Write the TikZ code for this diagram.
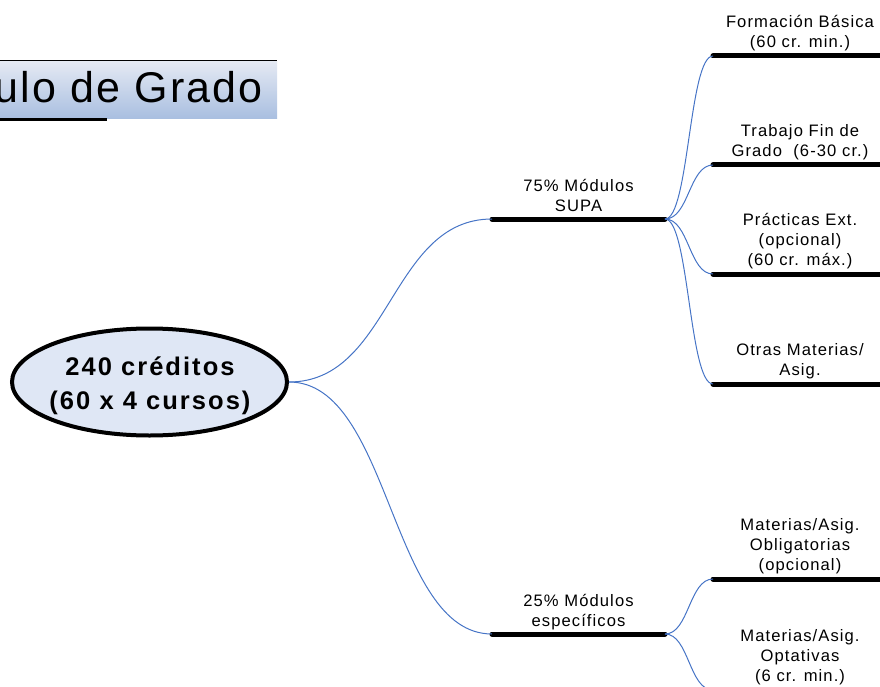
\documentclass[tikz,border=0pt]{standalone}
\usepackage{fontspec}
\setmainfont{Liberation Sans}
\usetikzlibrary{shapes.geometric}
\definecolor{conncol}{RGB}{70,116,198}
\definecolor{ellfill}{RGB}{223,231,245}
\definecolor{titletop}{RGB}{228,233,243}
\definecolor{titlebot}{RGB}{168,190,224}
\tikzset{
  bar/.style={line width=5pt, line cap=round, black},
  conn/.style={conncol, line width=1pt},
  lab/.style={anchor=south, align=center, inner sep=0pt, text depth=0pt,
              font=\fontsize{16.6}{20}\selectfont\addfontfeature{LetterSpace=6.5}},
}
\begin{document}
\begin{tikzpicture}[x=1pt,y=-1pt]
\useasboundingbox (0,0) rectangle (880,687);
\clip (0,0) rectangle (880,687);
% title
\shade[top color=titletop, bottom color=titlebot] (-5,62) rectangle (277,119);
\draw[line width=1.5pt] (-5,60.5) -- (277,60.5);
\draw[line width=3pt] (-5,120) -- (107,120);
\node[anchor=base east, inner sep=0pt, font=\fontsize{43}{50}\selectfont\addfontfeature{LetterSpace=5}] (title) at (263,103) {Título de Grado};
% root
\node[ellipse, draw, line width=4pt, fill=ellfill, minimum width=275pt, minimum height=107pt,
      inner sep=0pt] (root) at (149.5,382) {};
\node[align=center, inner sep=0pt, anchor=base, font=\bfseries\fontsize{25.5}{34}\selectfont\addfontfeature{LetterSpace=8}] (roottext) at (150,409)
      {240 créditos\\(60 x 4 cursos)};
% level 1 bars
\coordinate (a1) at (492,219); \coordinate (a2) at (665,219);
\coordinate (b1) at (492,634); \coordinate (b2) at (665,634);
\draw[bar] (a1) -- (a2);
\draw[bar] (b1) -- (b2);
\node[lab] (la) at (578.5,211.5) {75\% Módulos\\SUPA};
\node[lab] (lb) at (578.5,626.5) {25\% Módulos\\específicos};
% level 2 bars
\foreach \n/\y in {c/56, d/165, e/274, f/384, g/579, h/690}{
  \coordinate (\n1) at (713,\y);
  \coordinate (\n2) at (895,\y);
  \draw[bar] (\n1) -- (\n2);
}
\node[lab] (lc) at (800,47.5) {Formación Básica\\(60 cr. min.)};
\node[lab] (ld) at (800,156.5) {Trabajo Fin de\\Grado\ \ (6-30 cr.)};
\node[lab] (le) at (800,265.5) {Prácticas Ext.\\(opcional)\\(60 cr. máx.)};
\node[lab] (lf) at (800,375.5) {Otras Materias/\\Asig.};
\node[lab] (lg) at (800,570.5) {Materias/Asig.\\Obligatorias\\(opcional)};
\node[lab] (lh) at (800,681.5) {Materias/Asig.\\Optativas\\(6 cr. min.)};
% connectors
\draw[conn] (root.east) to[out=0,in=180,distance=102pt] (a1);
\draw[conn] (root.east) to[out=0,in=180,distance=102pt] (b1);
\foreach \n in {c,d,e,f}{
  \draw[conn] (a2) to[out=0,in=180,distance=24pt] (\n1);
}
\foreach \n in {g,h}{
  \draw[conn] (b2) to[out=0,in=180,distance=24pt] (\n1);
}
\end{tikzpicture}
\end{document}
